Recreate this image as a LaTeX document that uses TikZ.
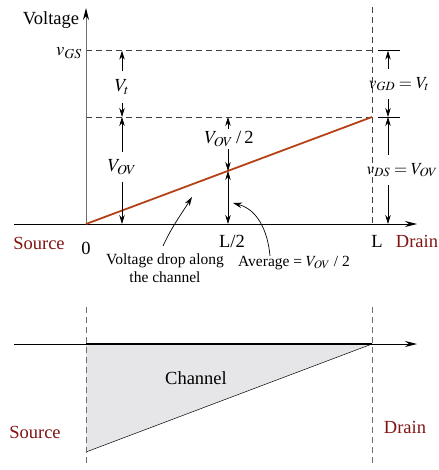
\documentclass[tikz,border=0pt]{standalone}
\usepackage{mathptmx}
\usepackage{fontspec}
\setmainfont{Liberation Serif}
\usetikzlibrary{arrows.meta}
\definecolor{dred}{RGB}{130,20,20}
\definecolor{rline}{RGB}{180,66,22}
\definecolor{chgray}{RGB}{230,230,232}
\definecolor{axgray}{RGB}{110,110,110}
\begin{document}
\begin{tikzpicture}[x=1pt,y=-1pt,
  every node/.style={inner sep=0pt, font=\fontsize{18.5}{21}\selectfont},
  small/.style={font=\fontsize{15.5}{18}\selectfont},
  rlbl/.style={font=\fontsize{17}{20}\selectfont},
  dimlbl/.style={inner xsep=1pt, inner ysep=#1},
  dimlbl/.default=7pt,
  dim/.style={-{Stealth[length=9pt,width=5.5pt]}, line width=0.7pt},
  dimboth/.style={{Stealth[length=9pt,width=5.5pt]}-{Stealth[length=9pt,width=5.5pt]}, line width=0.7pt},
  axis/.style={-{Stealth[length=12pt,width=6pt,color=black]}, line width=0.9pt},
  dashedline/.style={dash pattern=on 6pt off 4pt, line width=0.7pt, black!75},
  tick/.style={line width=0.7pt},
  curv/.style={-{Stealth[length=9pt,width=5.5pt]}, line width=0.7pt},
  redtext/.style={text=dred}
]
\useasboundingbox (0,0) rectangle (438,470);

% ---------- top panel ----------
\coordinate (O) at (86,224);
\coordinate (ytop) at (86,8);
\coordinate (xl) at (14,224);
\coordinate (xr) at (417,224);
\coordinate (gsL) at (86,50.7);
\coordinate (gsR) at (372,50.7);
\coordinate (ovL) at (86,117);
\coordinate (ovR) at (372,117);
\coordinate (Ltop) at (372,7);
\coordinate (Lbot) at (372,224);

\draw[dashedline] (gsL) -- (gsR);
\draw[dashedline] (ovL) -- (ovR);
\draw[dashedline] (Ltop) -- (Lbot);

\draw[axis, axgray] (O) -- (ytop);
\draw[axis] (xl) -- (xr);

\coordinate (t1a) at (378,50.7); \coordinate (t1b) at (400,50.7);
\coordinate (t2a) at (378,117);  \coordinate (t2b) at (400,117);
\draw[tick] (t1a) -- (t1b);
\draw[tick] (t2a) -- (t2b);

\draw[rline, line width=1.8pt] (O) -- (ovR);

% left dimension arrows at x=122
\coordinate (a1) at (122,50.7);
\coordinate (a2) at (122,117);
\coordinate (a3) at (122,224);
\node[dimlbl=8pt] (vt) at (122,87) {$V_t$};
\node[dimlbl=7pt] (vovl) at (122,167) {$V_{OV}$};
\draw[dim] (vt) -- (a1);
\draw[dim] (vt) -- (a2);
\draw[dim] (vovl) -- (a2);
\draw[dim] (vovl) -- (a3);

% middle dimension at x=228
\coordinate (m1) at (228,117);
\coordinate (m2) at (228,171);
\coordinate (m3) at (228,224);
\node[dimlbl=2pt] (vov2) at (229,139) {$V_{OV}$\,/\,2};
\draw[dim] (vov2.north -| m1) -- (m1);
\draw[dim] (vov2.south -| m1) -- (m2);
\draw[dimboth] (m2) -- (m3);

% right dimension at x=388
\coordinate (r1) at (388,50.7);
\coordinate (r2) at (388,117);
\coordinate (r3) at (388,224);
\node[rlbl, dimlbl=8pt] (vgd) at (399,84) {$v_{GD}=V_t$};
\node[rlbl, dimlbl=8pt] (vds) at (402,170) {$v_{DS}=V_{OV}$};
\draw[dim] (vgd.north -| r1) -- (r1);
\draw[dim] (vgd.south -| r1) -- (r2);
\draw[dim] (vds.north -| r1) -- (r2);
\draw[dim] (vds.south -| r1) -- (r3);

% labels
\node (volt) at (51,20) {Voltage};
\node[anchor=east] (vgs) at (82,53) {$v_{GS}$};
\node[redtext] (src) at (39,243) {Source};
\node (zero) at (86,248) {0};
\node (Lh) at (232,241) {L/2};
\node (LL) at (377,241) {L};
\node[redtext] (drn) at (417,241) {Drain};
\node[small, align=center] (vdrop) at (165,268) {Voltage drop along\\the channel};
\node[small] (avg) at (294,263) {Average = $V_{OV}$ / 2};

\coordinate (c1) at (192,197);
\coordinate (c2) at (233,203);
\draw[curv] (163,246) to[out=65, in=238] (c1);
\draw[curv] (avg.north -| 270,0) to[out=95, in=-15] (c2);

% ---------- bottom panel ----------
\coordinate (bl) at (14,344);
\coordinate (br) at (417,344);
\coordinate (T1) at (86,344);
\coordinate (T2) at (372,344);
\coordinate (T3) at (86,452);
\fill[chgray] (T1) -- (T2) -- (T3) -- cycle;
\draw[line width=0.5pt] (T2) -- (T3);
\draw[dashedline, axgray] (86,307) -- (86,463);
\draw[dashedline, axgray] (372,307) -- (372,463);
\draw[axis] (bl) -- (br);
\draw[line width=1.6pt] (T1) -- (T2);
\node (chan) at (196,378) {Channel};
\node[redtext] (src2) at (35,432) {Source};
\node[redtext] (drn2) at (405,427) {Drain};
\end{tikzpicture}
\end{document}
